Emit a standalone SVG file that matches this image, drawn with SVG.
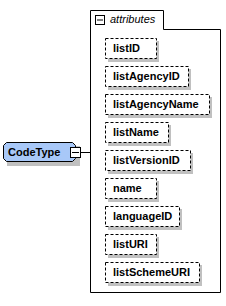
<svg xmlns="http://www.w3.org/2000/svg" width="226" height="306" viewBox="0 0 226 306">
<style>
text{font-family:"Liberation Sans",Arial,sans-serif;font-size:11px;fill:#000}
.b{font-weight:bold}
.i{font-style:italic}
.attr{fill:#fff;stroke:#000;stroke-width:1;stroke-dasharray:3,2}
.sh{fill:#c0c0c0}
.line{stroke:#000;stroke-width:1;fill:none}
.pm{fill:#fff;stroke:#000;stroke-width:1}
</style>
<rect width="226" height="306" fill="#fff"/>
<g id="attributes">
<path d="M90.5,10.5 H163.5 V29.5 H220.5 V292.5 H90.5 Z" fill="#fff" stroke="#000"/>
<rect class="pm" x="95.5" y="15.5" width="9" height="9"/>
<line class="line" x1="97" y1="20" x2="103" y2="20"/>
<text class="i" x="110" y="23">attributes</text>
</g>
<g id="listID"><rect class="sh" x="108" y="41" width="51" height="21"/><rect class="attr" x="105.5" y="38.5" width="51" height="20"/><text class="b" x="113" y="52">listID</text></g>
<g id="listAgencyID"><rect class="sh" x="108" y="69" width="83" height="21"/><rect class="attr" x="105.5" y="66.5" width="83" height="20"/><text class="b" x="113" y="80">listAgencyID</text></g>
<g id="listAgencyName"><rect class="sh" x="108" y="97" width="104" height="21"/><rect class="attr" x="105.5" y="94.5" width="104" height="20"/><text class="b" x="113" y="108">listAgencyName</text></g>
<g id="listName"><rect class="sh" x="108" y="125" width="63" height="21"/><rect class="attr" x="105.5" y="122.5" width="63" height="20"/><text class="b" x="113" y="136">listName</text></g>
<g id="listVersionID"><rect class="sh" x="108" y="153" width="85" height="21"/><rect class="attr" x="105.5" y="150.5" width="85" height="20"/><text class="b" x="113" y="164">listVersionID</text></g>
<g id="name"><rect class="sh" x="108" y="181" width="51" height="21"/><rect class="attr" x="105.5" y="178.5" width="51" height="20"/><text class="b" x="113" y="192">name</text></g>
<g id="languageID"><rect class="sh" x="108" y="209" width="74" height="21"/><rect class="attr" x="105.5" y="206.5" width="74" height="20"/><text class="b" x="113" y="220">languageID</text></g>
<g id="listURI"><rect class="sh" x="108" y="237" width="51" height="21"/><rect class="attr" x="105.5" y="234.5" width="51" height="20"/><text class="b" x="113" y="248">listURI</text></g>
<g id="listSchemeURI"><rect class="sh" x="108" y="265" width="94" height="21"/><rect class="attr" x="105.5" y="262.5" width="94" height="20"/><text class="b" x="113" y="276">listSchemeURI</text></g>
<g id="CodeType">
<path d="M10,146 H80 V166 H7 V149 Z" class="sh"/>
<path d="M6.5,142.5 H72.5 L75.5,145.5 V158.5 L72.5,161.5 H6.5 L3.5,158.5 V145.5 Z" fill="#a8c8f8" stroke="#000"/>
<text class="b" x="8" y="156">CodeType</text>
<rect class="pm" x="70.5" y="147.5" width="10" height="10"/>
<line class="line" x1="72" y1="152.5" x2="79" y2="152.5"/>
</g>
<g id="connectors">
<line class="line" x1="81" y1="152.5" x2="90.5" y2="152.5"/>
</g>
</svg>
